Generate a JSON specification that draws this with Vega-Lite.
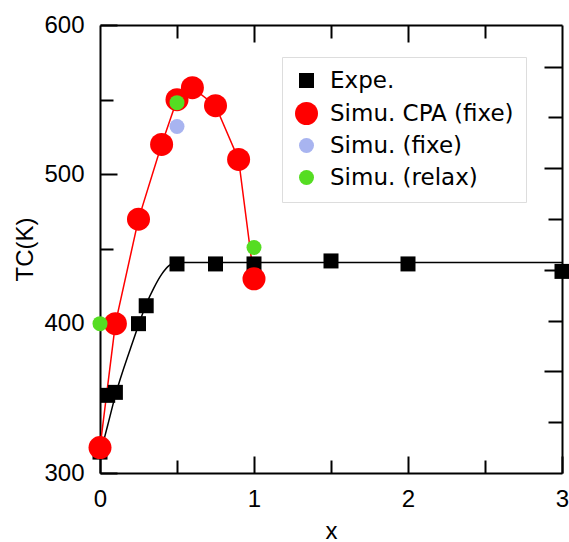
{
  "$schema": "https://vega.github.io/schema/vega-lite/v6.json",
  "width": 462,
  "height": 448,
  "autosize": "none",
  "padding": {"left": 100, "top": 25, "right": 7, "bottom": 69},
  "background": "white",
  "config": {
    "view": {"stroke": null},
    "axis": {
      "domainColor": "black",
      "domainWidth": 2,
      "tickColor": "black",
      "tickWidth": 2,
      "grid": false,
      "labelFlush": false,
      "labelFont": "Liberation Sans",
      "labelFontSize": 24,
      "labelColor": "black",
      "titleFont": "Liberation Sans",
      "titleFontSize": 24,
      "titleFontWeight": "normal",
      "titleColor": "black"
    },
    "legend": {
      "labelFont": "DejaVu Sans",
      "labelFontSize": 23,
      "labelColor": "black",
      "labelLimit": 400
    }
  },
  "datasets": {
    "fit": [
      {"x": 0, "tc": 312},
      {"x": 0.05, "tc": 332},
      {"x": 0.1, "tc": 352},
      {"x": 0.2, "tc": 384},
      {"x": 0.25, "tc": 399},
      {"x": 0.3, "tc": 413},
      {"x": 0.35, "tc": 424},
      {"x": 0.4, "tc": 433},
      {"x": 0.45, "tc": 439},
      {"x": 0.5, "tc": 441},
      {"x": 1, "tc": 441},
      {"x": 3, "tc": 441}
    ],
    "cpa": [
      {"x": 0, "tc": 317},
      {"x": 0.1, "tc": 400},
      {"x": 0.25, "tc": 470},
      {"x": 0.4, "tc": 520},
      {"x": 0.5, "tc": 550},
      {"x": 0.6, "tc": 558},
      {"x": 0.75, "tc": 546},
      {"x": 0.9, "tc": 510},
      {"x": 1, "tc": 430}
    ],
    "points": [
      {"x": 0, "tc": 314, "serie": "Expe."},
      {"x": 0.05, "tc": 352, "serie": "Expe."},
      {"x": 0.1, "tc": 354, "serie": "Expe."},
      {"x": 0.25, "tc": 400, "serie": "Expe."},
      {"x": 0.3, "tc": 412, "serie": "Expe."},
      {"x": 0.5, "tc": 440, "serie": "Expe."},
      {"x": 0.75, "tc": 440, "serie": "Expe."},
      {"x": 1, "tc": 440, "serie": "Expe."},
      {"x": 1.5, "tc": 442, "serie": "Expe."},
      {"x": 2, "tc": 440, "serie": "Expe."},
      {"x": 3, "tc": 435, "serie": "Expe."},
      {"x": 0, "tc": 317, "serie": "Simu. CPA (fixe)"},
      {"x": 0.1, "tc": 400, "serie": "Simu. CPA (fixe)"},
      {"x": 0.25, "tc": 470, "serie": "Simu. CPA (fixe)"},
      {"x": 0.4, "tc": 520, "serie": "Simu. CPA (fixe)"},
      {"x": 0.5, "tc": 550, "serie": "Simu. CPA (fixe)"},
      {"x": 0.6, "tc": 558, "serie": "Simu. CPA (fixe)"},
      {"x": 0.75, "tc": 546, "serie": "Simu. CPA (fixe)"},
      {"x": 0.9, "tc": 510, "serie": "Simu. CPA (fixe)"},
      {"x": 1, "tc": 430, "serie": "Simu. CPA (fixe)"},
      {"x": 0.5, "tc": 532, "serie": "Simu. (fixe)"},
      {"x": 0, "tc": 400, "serie": "Simu. (relax)"},
      {"x": 0.5, "tc": 548, "serie": "Simu. (relax)"},
      {"x": 1, "tc": 451, "serie": "Simu. (relax)"}
    ]
  },
  "layer": [
    {
      "data": {"name": "fit"},
      "mark": {"type": "line", "color": "black", "strokeWidth": 1.5, "interpolate": "monotone"},
      "encoding": {
        "x": {
          "field": "x", "type": "quantitative",
          "scale": {"domain": [0, 3], "nice": false, "zero": false},
          "axis": {
            "orient": "bottom",
            "title": "x",
            "values": [0, 0.5, 1, 1.5, 2, 2.5, 3],
            "labelExpr": "datum.value % 1 == 0 ? '' + datum.value : ''",
            "tickSize": {"condition": {"test": "datum.value % 1 != 0", "value": -13}, "value": -17},
            "labelPadding": 31,
            "titlePadding": 8
          }
        },
        "y": {
          "field": "tc", "type": "quantitative",
          "scale": {"domain": [300, 600], "nice": false, "zero": false},
          "axis": {
            "orient": "left",
            "title": "TC(K)",
            "values": [300, 350, 400, 450, 500, 550, 600],
            "labelExpr": "datum.value % 100 == 0 ? datum.label : ''",
            "tickSize": {"condition": {"test": "datum.value % 100 != 0", "value": -13}, "value": -17},
            "labelPadding": 33,
            "titlePadding": 6
          }
        }
      }
    },
    {
      "data": {"name": "cpa"},
      "mark": {"type": "line", "color": "#ff0000", "strokeWidth": 1.5},
      "encoding": {
        "x": {
          "field": "x", "type": "quantitative",
          "scale": {"domain": [0, 3], "nice": false, "zero": false},
          "axis": {
            "orient": "top",
            "title": null,
            "values": [0.5, 1, 1.5, 2, 2.5],
            "labels": false,
            "tickSize": {"condition": {"test": "datum.value % 1 != 0", "value": -13}, "value": -17}
          }
        },
        "y": {
          "field": "tc", "type": "quantitative",
          "scale": {"domain": [300, 600], "nice": false, "zero": false},
          "axis": {
            "orient": "right",
            "title": null,
            "values": [334, 368, 402.1, 436.1, 470.1, 504.1, 538.1, 572.2],
            "labels": false,
            "tickSize": {"condition": {"test": "indexof([368, 436.1, 504.1, 572.2], datum.value) < 0", "value": -14}, "value": -18}
          }
        }
      }
    },
    {
      "data": {"name": "points"},
      "mark": {"type": "point", "filled": true, "opacity": 1},
      "encoding": {
        "x": {"field": "x", "type": "quantitative", "scale": {"domain": [0, 3], "nice": false, "zero": false}, "axis": null},
        "y": {"field": "tc", "type": "quantitative", "scale": {"domain": [300, 600], "nice": false, "zero": false}, "axis": null},
        "color": {
          "field": "serie", "type": "nominal",
          "scale": {
            "domain": ["Expe.", "Simu. CPA (fixe)", "Simu. (fixe)", "Simu. (relax)"],
            "range": ["#000000", "#ff0000", "#a8b4f0", "#55dd22"]
          },
          "legend": {
            "title": null,
            "orient": "none",
            "legendX": 182,
            "legendY": 32,
            "padding": 12,
            "strokeColor": "#dddddd",
            "fillColor": "white",
            "symbolSize": 240,
            "rowPadding": 8,
            "labelOffset": 11,
            "encode": {"legend": {"update": {"strokeWidth": {"value": 3}}}}
          }
        },
        "shape": {
          "field": "serie", "type": "nominal",
          "scale": {
            "domain": ["Expe.", "Simu. CPA (fixe)", "Simu. (fixe)", "Simu. (relax)"],
            "range": ["square", "circle", "circle", "circle"]
          },
          "legend": {
            "title": null,
            "orient": "none",
            "legendX": 182,
            "legendY": 32,
            "padding": 12,
            "strokeColor": "#dddddd",
            "fillColor": "white",
            "symbolSize": 240,
            "rowPadding": 8,
            "labelOffset": 11,
            "encode": {"legend": {"update": {"strokeWidth": {"value": 3}}}}
          }
        },
        "size": {
          "field": "serie", "type": "nominal",
          "scale": {
            "type": "ordinal",
            "domain": ["Expe.", "Simu. CPA (fixe)", "Simu. (fixe)", "Simu. (relax)"],
            "range": [225, 529, 225, 225]
          },
          "legend": null
        }
      }
    }
  ],
  "resolve": {"axis": {"x": "independent", "y": "independent"}}
}
